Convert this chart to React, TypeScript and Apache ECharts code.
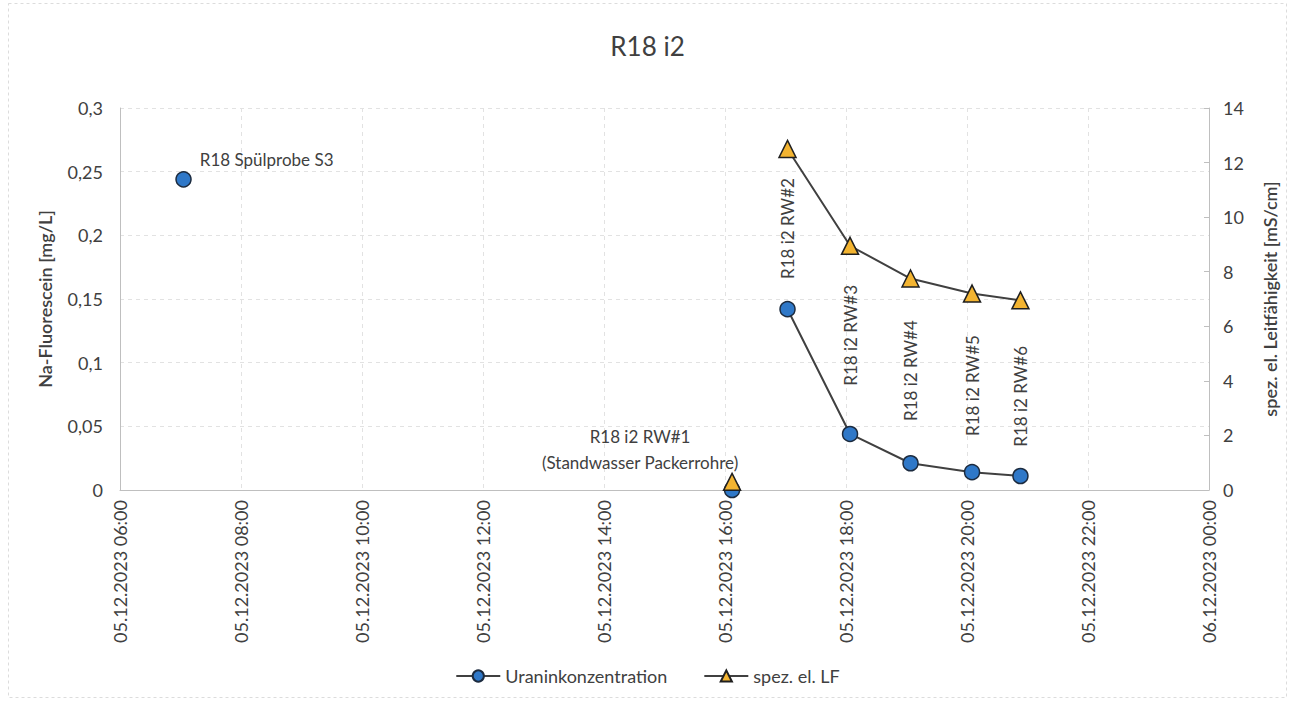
import React, { useEffect, useRef } from "react";
import * as echarts from "echarts";

// Sampling times (UTC wall clock), sample names and measured values
const sampleTimes = [
  "05.12.2023 07:03",
  "05.12.2023 16:07",
  "05.12.2023 17:02",
  "05.12.2023 18:04",
  "05.12.2023 19:04",
  "05.12.2023 20:05",
  "05.12.2023 20:53",
];
const sampleNames = [
  "R18 Spülprobe S3",
  "R18 i2 RW#1\n(Standwasser Packerrohre)",
  "R18 i2 RW#2",
  "R18 i2 RW#3",
  "R18 i2 RW#4",
  "R18 i2 RW#5",
  "R18 i2 RW#6",
];
// Na-Fluorescein (Uranin) concentration [mg/L]
const uraninValues = [0.244, 0, 0.142, 0.044, 0.021, 0.014, 0.011];
// specific electrical conductivity [mS/cm]
const conductivityValues: (number | null)[] = [null, 0.3, 12.5, 8.95, 7.75, 7.2, 6.95];
// the continuous pumping run (connected by a line) starts with this sample
const runStartIndex = 2;

const xStart = "05.12.2023 06:00";
const xEnd = "06.12.2023 00:00";
const xStepHours = 2;

const FONT = "Lato, 'Open Sans', sans-serif";
const TEXT = "#404040";

function parseTime(s: string): number {
  const [d, t] = s.split(" ");
  const [dd, mm, yyyy] = d.split(".").map(Number);
  const [hh, mi] = t.split(":").map(Number);
  return Date.UTC(yyyy, mm - 1, dd, hh, mi);
}

function formatTime(v: number): string {
  const dt = new Date(v);
  const p = (n: number) => String(n).padStart(2, "0");
  return `${p(dt.getUTCDate())}.${p(dt.getUTCMonth() + 1)}.${dt.getUTCFullYear()} ${p(
    dt.getUTCHours()
  )}:${p(dt.getUTCMinutes())}`;
}

function sampleLabel(i: number): any {
  const base = { show: true, formatter: sampleNames[i], color: TEXT, fontFamily: FONT, fontSize: 17 };
  if (i === 0) {
    return { ...base, position: "right", distance: 8, offset: [0, -20] };
  }
  if (i === 1) {
    return { ...base, position: "top", distance: 6, offset: [-92, 0], align: "center", lineHeight: 26 };
  }
  const gaps = [0, 0, 22, 40, 34, 28, 21];
  return {
    ...base,
    position: "top",
    rotate: 90,
    align: "left",
    verticalAlign: "middle",
    distance: gaps[i],
  };
}

function buildSeriesData(values: (number | null)[], withLabels: boolean) {
  const out: any[] = [];
  values.forEach((v, i) => {
    if (v === null) return;
    const t = parseTime(sampleTimes[i]);
    const item: any = { value: [t, v] };
    if (withLabels) item.label = sampleLabel(i);
    out.push(item);
    // single samples before the pumping run are not joined by a line
    if (i < runStartIndex) out.push({ value: [t, "-"] });
  });
  return out;
}

export default function App() {
  const ref = useRef<HTMLDivElement>(null);

  useEffect(() => {
    if (!ref.current) return;
    const chart = echarts.init(ref.current, undefined, { renderer: "svg" });
    const step = xStepHours * 3600 * 1000;

    const gridDash = { color: "#e2e2e2", type: [4, 4] as any, width: 1 };

    chart.setOption({
      animation: false,
      backgroundColor: "#ffffff",
      textStyle: { fontFamily: FONT },
      graphic: [
        {
          type: "rect",
          shape: { x: 8.5, y: 3.5, width: 1278, height: 694 },
          style: { fill: "none", stroke: "#dcdcdc", lineWidth: 1, lineDash: [3, 3] },
          silent: true,
        },
      ],
      title: {
        text: "R18 i2",
        left: "center",
        top: 28,
        textStyle: { color: TEXT, fontSize: 26, fontWeight: "normal", fontFamily: FONT },
      },
      grid: { left: 120, right: 86, top: 108, bottom: 212, containLabel: false },
      legend: {
        bottom: 12,
        left: "center",
        itemWidth: 44,
        itemHeight: 14,
        itemGap: 36,
        textStyle: { color: TEXT, fontSize: 18, fontFamily: FONT },
        data: ["Uraninkonzentration", "spez. el. LF"],
      },
      xAxis: {
        type: "value",
        min: parseTime(xStart),
        max: parseTime(xEnd),
        interval: step,
        axisLine: { show: true, lineStyle: { color: "#bfbfbf" } },
        axisTick: { show: false },
        splitLine: { show: true, lineStyle: gridDash },
        axisLabel: {
          rotate: 90,
          margin: 10,
          color: TEXT,
          fontSize: 18,
          fontFamily: FONT,
          formatter: (v: number) => formatTime(v),
        },
      },
      yAxis: [
        {
          type: "value",
          min: 0,
          max: 0.3,
          interval: 0.05,
          position: "left",
          name: "Na-Fluorescein [mg/L]",
          nameLocation: "middle",
          nameRotate: 90,
          nameGap: 66,
          nameTextStyle: { color: TEXT, fontSize: 18, fontWeight: 600, fontFamily: FONT },
          axisLine: { show: true, lineStyle: { color: "#bfbfbf" } },
          axisTick: { show: false },
          splitLine: { show: true, lineStyle: gridDash },
          axisLabel: {
            color: TEXT,
            fontSize: 18,
            fontFamily: FONT,
            margin: 17,
            formatter: (v: number) => String(+v.toFixed(2)).replace(".", ","),
          },
        },
        {
          type: "value",
          min: 0,
          max: 14,
          interval: 2,
          position: "right",
          name: "spez. el. Leitfähigkeit [mS/cm]",
          nameLocation: "middle",
          nameRotate: 90,
          nameGap: 52,
          nameTextStyle: { color: TEXT, fontSize: 18, fontWeight: 600, fontFamily: FONT },
          axisLine: { show: true, lineStyle: { color: "#bfbfbf" } },
          axisTick: { show: true, inside: true, length: 5, lineStyle: { color: "#bfbfbf" } },
          splitLine: { show: false },
          axisLabel: { color: TEXT, fontSize: 18, fontFamily: FONT, margin: 14 },
        },
      ],
      series: [
        {
          name: "Uraninkonzentration",
          type: "line",
          yAxisIndex: 0,
          connectNulls: false,
          clip: false,
          symbol: "circle",
          symbolSize: 15,
          itemStyle: { color: "#2f78c8", borderColor: "#1c2b3f", borderWidth: 1.5 },
          lineStyle: { color: "#404040", width: 2 },
          data: buildSeriesData(uraninValues, true),
          z: 2,
        },
        {
          name: "spez. el. LF",
          type: "line",
          yAxisIndex: 1,
          connectNulls: false,
          clip: false,
          symbol: "triangle",
          symbolSize: 17,
          itemStyle: { color: "#f3b431", borderColor: "#1f1f1f", borderWidth: 1.5 },
          lineStyle: { color: "#404040", width: 2 },
          data: buildSeriesData(conductivityValues, false),
          z: 3,
        },
      ],
    });

    return () => chart.dispose();
  }, []);

  return (
    <div
      ref={ref}
      style={{ position: "absolute", left: 0, top: 0, width: 1295, height: 702 }}
    />
  );
}
